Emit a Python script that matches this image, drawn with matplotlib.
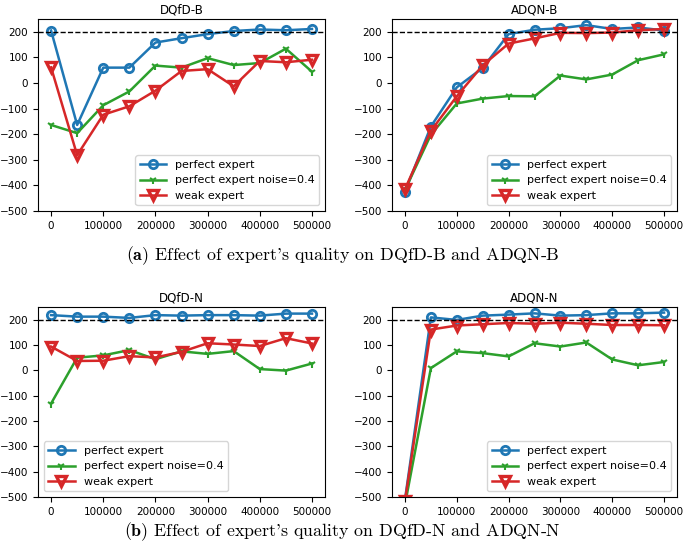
import matplotlib
matplotlib.use("Agg")
import matplotlib.pyplot as plt

steps = [0, 50000, 100000, 150000, 200000, 250000, 300000, 350000, 400000, 450000, 500000]
labels = ["perfect expert", "perfect expert noise=0.4", "weak expert"]
titles = ["DQfD-B", "ADQN-B", "DQfD-N", "ADQN-N"]

# DQfD-B
dqfd_b_perfect = [205, -164, 60, 60, 158, 175, 191, 203, 209, 206, 211]
dqfd_b_noise = [-164, -196, -87, -33, 68, 60, 97, 70, 78, 134, 44]
dqfd_b_weak = [61, -282, -124, -91, -30, 47, 54, -13, 86, 81, 91]

# ADQN-B
adqn_b_perfect = [-424, -170, -17, 59, 191, 208, 214, 226, 211, 217, 205]
adqn_b_noise = [-418, -202, -80, -61, -51, -52, 29, 14, 33, 89, 112]
adqn_b_weak = [-415, -187, -52, 69, 154, 174, 196, 195, 197, 206, 211]

# DQfD-N
dqfd_n_perfect = [218, 212, 212, 207, 218, 216, 218, 218, 216, 224, 224]
dqfd_n_noise = [-131, 50, 59, 80, 44, 75, 65, 76, 5, -1, 27]
dqfd_n_weak = [94, 37, 38, 56, 51, 73, 107, 102, 96, 127, 106]

# ADQN-N
adqn_n_perfect = [-510, 209, 199, 216, 220, 225, 216, 218, 225, 225, 228]
adqn_n_noise = [-530, 9, 75, 68, 55, 107, 94, 110, 43, 20, 33]
adqn_n_weak = [-515, 161, 177, 182, 187, 184, 188, 184, 179, 179, 178]

panels = [
    (dqfd_b_perfect, dqfd_b_noise, dqfd_b_weak, "lower right"),
    (adqn_b_perfect, adqn_b_noise, adqn_b_weak, "lower right"),
    (dqfd_n_perfect, dqfd_n_noise, dqfd_n_weak, "lower left"),
    (adqn_n_perfect, adqn_n_noise, adqn_n_weak, "lower right"),
]

plt.rcParams["font.size"] = 7.5
plt.rcParams["mathtext.fontset"] = "cm"

fig = plt.figure(figsize=(6.85, 5.46), dpi=100)
rects = [
    [0.0555, 0.6136, 0.419, 0.3516],
    [0.5723, 0.6136, 0.416, 0.3516],
    [0.0555, 0.0897, 0.419, 0.348],
    [0.5723, 0.0897, 0.416, 0.348],
]

for rect, title, (perfect, noise, weak, loc) in zip(rects, titles, panels):
    ax = fig.add_axes(rect)
    ax.plot(steps, perfect, color="#1f77b4", marker="o", mfc="none", mew=2,
            ms=6, lw=1.8, label=labels[0])
    ax.plot(steps, noise, color="#2ca02c", marker="1", mew=1.5, ms=6,
            lw=1.8, label=labels[1])
    ax.plot(steps, weak, color="#d62728", marker="v", mfc="none", mew=2.4,
            ms=6.5, lw=1.8, label=labels[2])
    ax.axhline(200, color="black", ls="--", lw=1)
    ax.set_ylim(-500, 250)
    ax.set_xticks([0, 100000, 200000, 300000, 400000, 500000])
    ax.set_yticks(range(-500, 201, 100))
    ax.set_title(title, fontsize=8.6, pad=4)
    ax.legend(loc=loc, fontsize=8, handlelength=2.4)

fig.text(0.5, 0.531, r"$\mathbf{(a)}$ Effect of expert's quality on DQfD-B and ADQN-B",
         family="cmr10", fontsize=12.9, ha="center", va="center")
fig.text(0.5, 0.026, r"$\mathbf{(b)}$ Effect of expert's quality on DQfD-N and ADQN-N",
         family="cmr10", fontsize=12.9, ha="center", va="center")

fig.savefig("out.png", dpi=100)
